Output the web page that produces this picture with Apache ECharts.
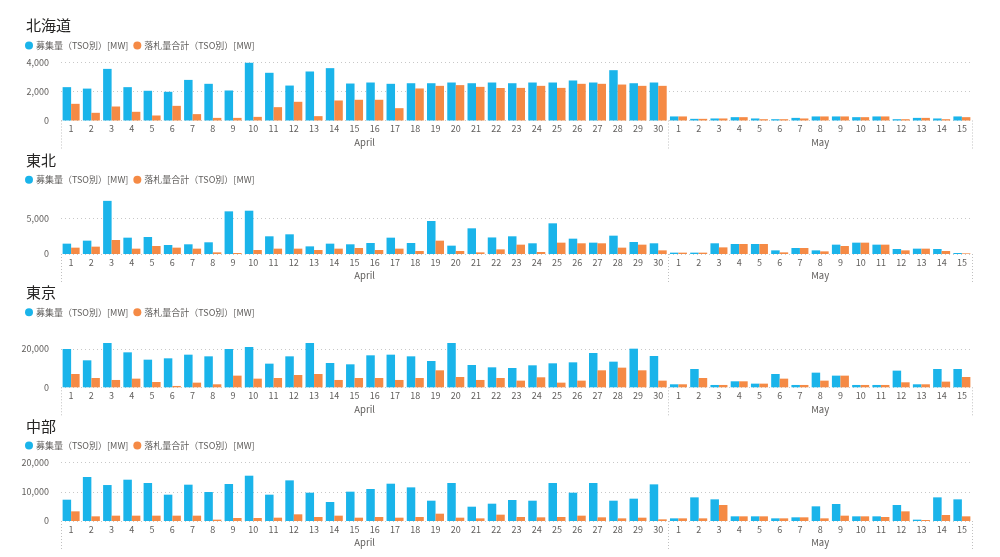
<!DOCTYPE html>
<html>
<head>
<meta charset="utf-8">
<script src="https://cdn.jsdelivr.net/npm/echarts@6/dist/echarts.min.js"></script>
<style>
html,body{margin:0;padding:0;background:#fff;}
#chart{width:1000px;height:557px;}
</style>
</head>
<body>
<div id="chart"></div>
<script>
// ---- data ----
const months = ['April', 'May'];
const monthDays = [30, 15];
const seriesNames = ['募集量（TSO別）[MW]', '落札量合計（TSO別）[MW]'];
const regions = ['北海道', '東北', '東京', '中部'];

const hokkaidoRecruit = [2300,2200,3560,2300,2050,1980,2800,2530,2070,3980,3290,2410,3380,3610,2550,2620,2530,2570,2570,2620,2570,2620,2570,2620,2620,2760,2620,3470,2570,2620,
  280,115,140,230,140,90,180,280,280,230,280,90,180,140,280];
const hokkaidoAwarded = [1150,530,965,600,345,1010,440,180,180,250,920,1290,300,1380,1430,1430,850,2210,2390,2440,2320,2240,2250,2390,2250,2530,2530,2480,2390,2390,
  280,115,140,230,90,90,140,280,280,230,280,90,180,90,230];

const tohokuRecruit = [1450,1870,7450,2290,2380,1260,1360,1640,5980,6070,2480,2760,1070,1450,1360,1540,2290,1540,4630,1170,3600,2320,2480,1500,4300,2150,1590,2570,1680,1500,
  190,190,1500,1400,1400,510,840,510,1310,1590,1310,700,750,700,140];
const tohokuAwarded = [890,1030,1960,750,1120,890,750,230,140,560,750,750,560,750,840,560,750,420,1870,420,230,650,1310,280,1590,1500,1500,890,1310,510,
  190,190,930,1400,1400,230,840,370,1120,1590,1310,510,750,420,90];

const tokyoRecruit = [20000,14090,23130,18260,14430,15130,17040,16170,20000,21040,12350,16170,23130,12700,12000,16700,17040,16170,13740,23130,11650,10430,10090,11480,12520,13040,17910,13390,20170,16350,
  1570,9570,1220,3130,1910,6960,1220,7650,6090,1220,1220,8700,1570,9570,9570];
const tokyoAwarded = [6960,4870,3830,4520,2780,700,2430,1570,6090,4520,4870,6430,6960,3830,4870,4870,3830,4870,8870,5390,3830,4870,3480,5220,2430,3480,8870,10260,8870,3480,
  1570,4870,1220,3130,1910,4520,1220,3480,6090,1220,1220,2610,1570,2960,5390];

const chubuRecruit = [7310,15090,12340,14170,13030,9030,12460,9940,12690,15540,9030,13940,9710,6510,10060,10970,12800,11540,6970,13030,4910,5940,7200,6970,13030,9710,13030,6970,7660,12570,
  910,8110,7430,1600,1600,910,1260,5030,5830,1600,1600,5490,460,8110,7430];
const chubuAwarded = [3310,1600,1830,1830,1830,1830,1830,460,1030,1030,1140,2290,1370,1830,1140,1370,1140,1370,2510,1140,910,2170,1370,1260,1370,1830,1260,910,1140,570,
  910,910,5490,1600,1600,910,1260,910,1830,1600,1370,3310,340,2060,1600];

const yMax = [4000, 7500, 23500, 20000];
const yTicks = [[0,2000,4000],[0,5000],[0,20000],[0,10000,20000]];

// ---- layout ----
const panelData = [
  [hokkaidoRecruit, hokkaidoAwarded],
  [tohokuRecruit, tohokuAwarded],
  [tokyoRecruit, tokyoAwarded],
  [chubuRecruit, chubuAwarded]
];
const gridTop = [62.5, 200.5, 342.3, 462.7];
const gridBottomY = [120.5, 254, 387.3, 521];
const titleY = [27, 161.5, 294, 427.5];
const legendY = [45, 179.3, 311.7, 445];

const colors = ['#1ab4ea', '#f58a45'];
const FONT = '"Noto Sans CJK JP", "Noto Sans", sans-serif';

const categories = [];
const boundaries = [];
const monthCenters = [];
let acc = 0;
months.forEach((m, i) => {
  boundaries.push(acc);
  monthCenters.push(acc + monthDays[i] / 2);
  for (let d = 1; d <= monthDays[i]; d++) categories.push(m + ' ' + d);
  acc += monthDays[i];
});
const total = acc;

const grid = [], xAxis = [], yAxis = [], series = [], title = [], legend = [];
regions.forEach((r, i) => {
  grid.push({left: 61, right: 28, top: gridTop[i], height: gridBottomY[i] - gridTop[i]});
  title.push({text: r, left: 26, top: titleY[i] - 9, padding: 0,
    textStyle: {fontFamily: FONT, fontSize: 15, fontWeight: 'normal', color: '#252423'}});
  legend.push({data: seriesNames, left: 25, top: legendY[i] - 4, icon: 'circle', itemWidth: 8, itemHeight: 8,
    itemGap: 5, padding: 0, selectedMode: false,
    textStyle: {fontFamily: FONT, fontSize: 9, color: '#605e5c', padding: [0, 0, 0, -2]}});
  xAxis.push({type: 'category', gridIndex: i, data: categories,
    axisLine: {show: false},
    axisTick: {show: true, alignWithLabel: false, length: 30,
      interval: (idx) => boundaries.indexOf(idx) >= 0,
      lineStyle: {type: [1, 2], color: '#c0c0c0', width: 1}},
    axisLabel: {interval: 0, fontFamily: FONT, fontSize: 9, color: '#605e5c', margin: 4,
      formatter: (v) => v.split(' ')[1]}});
  xAxis.push({type: 'value', gridIndex: i, min: 0, max: total, position: 'bottom',
    axisLine: {show: false}, axisTick: {show: false}, splitLine: {show: false},
    axisLabel: {customValues: monthCenters, fontFamily: FONT, fontSize: 9.5, color: '#605e5c', margin: 17,
      showMinLabel: true, showMaxLabel: true,
      formatter: (v) => { const k = monthCenters.indexOf(v); return k >= 0 ? months[k] : ''; }}});
  yAxis.push({type: 'value', gridIndex: i, min: 0, max: yMax[i],
    axisLine: {show: false},
    axisTick: {show: false, customValues: yTicks[i]},
    axisLabel: {customValues: yTicks[i], fontFamily: FONT, fontSize: 9, color: '#605e5c', margin: 12,
      formatter: (v) => v.toLocaleString('en-US')},
    splitLine: {show: true, lineStyle: {type: [1, 3], color: '#c8c8c8', width: 1}}});
  panelData[i].forEach((arr, s) => {
    series.push({type: 'bar', name: seriesNames[s], xAxisIndex: 2 * i, yAxisIndex: i,
      data: arr, itemStyle: {color: colors[s]}, barGap: '0%', barCategoryGap: '16%'});
  });
});

const chart = echarts.init(document.getElementById('chart'), null, {renderer: 'canvas'});
chart.setOption({animation: false, backgroundColor: '#fff', title, legend, grid, xAxis, yAxis, series, color: colors});
</script>
</body>
</html>
